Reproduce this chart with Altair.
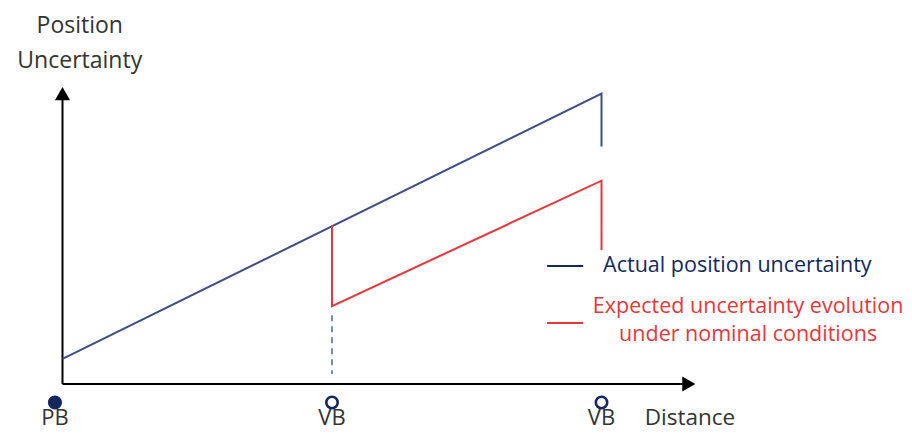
import altair as alt
import pandas as pd

# ---- data (abstract distance / uncertainty units) ----
actual_x = [0, 10, 10]
actual_y = [0.95, 11.0, 9.0]

expected_x = [5, 5, 10, 10]
expected_y = [6.0, 2.95, 7.7, 5.08]

dash_x = [5, 5]
dash_y = [2.6, 0.38]

marker_x = [-0.14, 5, 10]
marker_y = [-0.7, -0.7, -0.7]
marker_label = ["PB", "VB", "VB"]
marker_filled = [True, False, False]

axis_x_end = 11.75
axis_y_end = 11.3

legend_labels = ["Actual position uncertainty",
                 "Expected uncertainty evolution", "under nominal conditions"]

NAVY = "#14275f"
BLUE = "#3b4f85"
RED = "#e8363a"
DASH = "#6f8fb2"
TXT = "#333333"

XDOM = [-1.011, 15.612]
YDOM = [-1.780, 14.242]
xs = alt.Scale(domain=XDOM, nice=False, zero=False)
ys = alt.Scale(domain=YDOM, nice=False, zero=False)

def X(f="x"):
    return alt.X(f"{f}:Q", scale=xs, axis=None)

def Y(f="y"):
    return alt.Y(f"{f}:Q", scale=ys, axis=None)

# axes lines
axes_df = pd.DataFrame({"x": [0, 0], "y": [0, 0], "x2": [axis_x_end - 0.1, 0],
                        "y2": [0, axis_y_end - 0.2]})
axes = alt.Chart(axes_df).mark_rule(color="black", strokeWidth=2).encode(
    x=X(), y=Y(), x2="x2:Q", y2="y2:Q")

arrow_r = alt.Chart(pd.DataFrame({"x": [axis_x_end - 0.13], "y": [0]})).mark_point(
    shape="triangle-right", filled=True, color="black", size=230, opacity=1).encode(x=X(), y=Y())
arrow_u = alt.Chart(pd.DataFrame({"x": [0], "y": [axis_y_end - 0.3]})).mark_point(
    shape="triangle-up", filled=True, color="black", size=230, opacity=1).encode(x=X(), y=Y())

actual_df = pd.DataFrame({"x": actual_x, "y": actual_y, "o": range(len(actual_x))})
actual = alt.Chart(actual_df).mark_line(color=BLUE, strokeWidth=2).encode(
    x=X(), y=Y(), order="o:Q")

exp_df = pd.DataFrame({"x": expected_x, "y": expected_y, "o": range(len(expected_x))})
expected = alt.Chart(exp_df).mark_line(color=RED, strokeWidth=2).encode(
    x=X(), y=Y(), order="o:Q")

dash_df = pd.DataFrame({"x": dash_x, "y": dash_y, "o": [0, 1]})
dashed = alt.Chart(dash_df).mark_line(color=DASH, strokeWidth=2, strokeDash=[6, 5]).encode(
    x=X(), y=Y(), order="o:Q")

mk_df = pd.DataFrame({"x": marker_x, "y": marker_y, "label": marker_label,
                      "filled": marker_filled})
filled_pts = alt.Chart(mk_df[mk_df.filled]).mark_point(
    shape="circle", filled=True, color=NAVY, size=200, opacity=1).encode(x=X(), y=Y())
open_pts = alt.Chart(mk_df[~mk_df.filled]).mark_point(
    shape="circle", filled=False, color=NAVY, strokeWidth=2.6, size=130, opacity=1).encode(x=X(), y=Y())

FONT = "Open Sans"
labels = alt.Chart(mk_df).mark_text(font=FONT, fontSize=22, color=TXT, baseline="middle").encode(
    x=X(), y=alt.Y("ly:Q", scale=ys, axis=None), text="label:N"
).transform_calculate(ly="datum.y - 0.6")

dist = alt.Chart(pd.DataFrame({"x": [11.64], "y": [-1.28], "t": ["Distance"]})).mark_text(
    font=FONT, fontSize=22.5, color=TXT, baseline="middle").encode(x=X(), y=Y(), text="t:N")

title = alt.Chart(pd.DataFrame({"x": [0.32, 0.32], "y": [13.55, 12.25],
                                "t": ["Position", "Uncertainty"]})).mark_text(
    font=FONT, fontSize=23, color=TXT, baseline="middle").encode(x=X(), y=Y(), text="t:N")

# legend
leg_seg = pd.DataFrame({"x": [8.99, 8.99], "x2": [9.66, 9.66], "y": [4.47, 2.31],
                        "c": ["a", "e"]})
leg_lines = alt.Chart(leg_seg).mark_rule(strokeWidth=2).encode(
    x=X(), x2="x2:Q", y=Y(),
    color=alt.Color("c:N", scale=alt.Scale(domain=["a", "e"], range=[NAVY, RED]), legend=None))

leg_a = alt.Chart(pd.DataFrame({"x": [10.03], "y": [4.47], "t": [legend_labels[0]]})).mark_text(
    font=FONT, fontSize=21.5, color=NAVY, align="left", baseline="middle").encode(x=X(), y=Y(), text="t:N")
leg_e = alt.Chart(pd.DataFrame({"x": [12.72, 12.72], "y": [2.92, 1.86],
                                "t": legend_labels[1:]})).mark_text(
    font=FONT, fontSize=21.5, color=RED, align="center", baseline="middle").encode(x=X(), y=Y(), text="t:N")

chart = alt.layer(axes, arrow_r, arrow_u, dashed, actual, expected, filled_pts, open_pts,
                  labels, dist, title, leg_lines, leg_a, leg_e).properties(
    width=896, height=423, padding=0, autosize=alt.AutoSizeParams(type="none"),
    background="white"
).configure_view(stroke=None)

chart.save("out.html", embed_options={"renderer": "svg", "actions": False})
